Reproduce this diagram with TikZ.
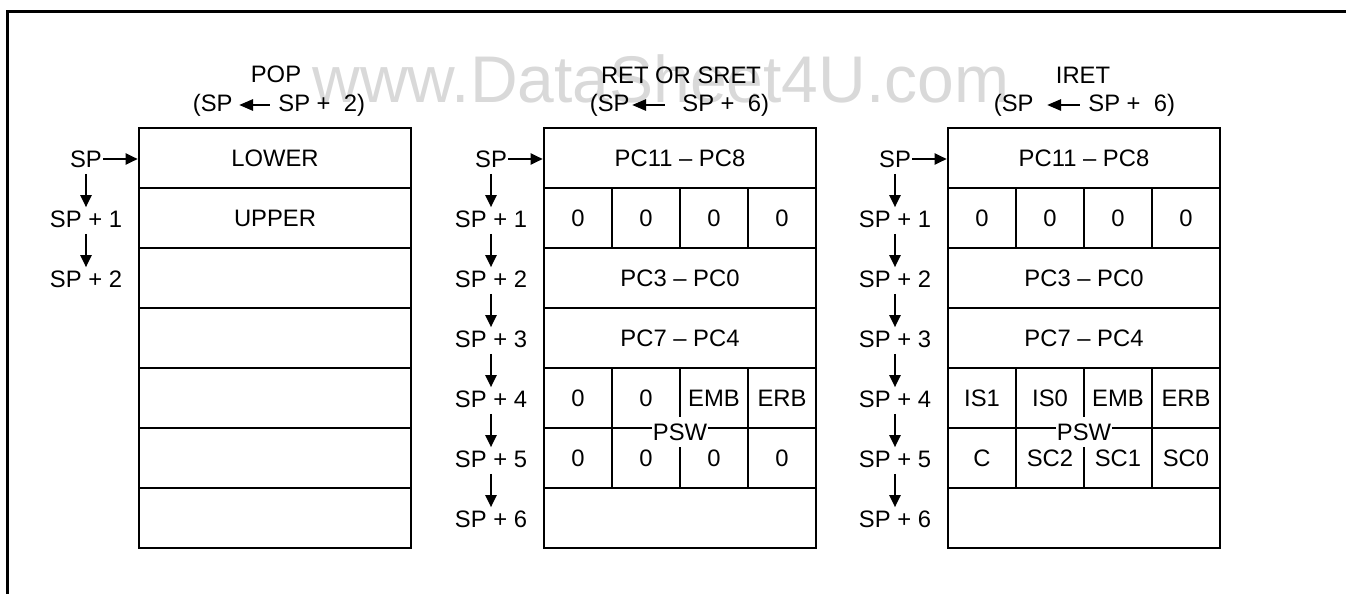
\documentclass[tikz,border=0pt]{standalone}
\usepackage{fontspec}
\setmainfont{Liberation Sans}
\usetikzlibrary{arrows.meta,positioning}

\begin{document}
\begin{tikzpicture}[
		x=0.5pt, y=-0.5pt,
		font=\fontsize{11.9}{14}\selectfont,
		every node/.style={inner sep=0pt},
		wide/.style={draw, line width=1.3pt, minimum width=136pt, minimum height=30pt},
		cell/.style={draw, line width=1.3pt, minimum width=34pt, minimum height=30pt},
		ptr/.style={-{Triangle[length=6pt,width=5.5pt]}, line width=1.1pt},
		back/.style={{Triangle[length=7pt,width=5.5pt]}-, line width=1.3pt},
		psw/.style={fill=white, inner xsep=0.6pt, inner ysep=3.5pt},
		wmark/.style={text=black!15, font=\fontsize{33}{33}\selectfont}
		]
		\useasboundingbox (0,0) rectangle (1346,594);
		\node[wmark, anchor=base west] (dsu) at (312,102) {www.DataSheet4U.com};
		\draw[line width=1.5pt] (7,594) -- (7,11) -- (1346,11);

		\node (poptitle) at (276,74) {POP};
		\node[anchor=east] (popl) at (233,105) {(SP};
		\node[anchor=west] (popr) at (278,105) {SP +\ \ 2)};
		\draw[back, shorten <=3pt, shorten >=4pt] (popl.east) -- (popr.west);
		\foreach \t [count=\k] in {LOWER,UPPER,{},{},{},{},{}}
			\node[wide] (pop\k) at (275,98+60*\k) {\t};

		\node (rettitle) at (681,75) {RET OR SRET};
		\node[anchor=east] (retl) at (630,105) {(SP};
		\node[anchor=west] (retr) at (682,105) {SP +\ \ 6)};
		\draw[back, shorten <=1pt, shorten >=8.5pt] (retl.east) -- (retr.west);
		\foreach \k/\t in {1/PC11 -- PC8,3/PC3 -- PC0,4/PC7 -- PC4,7/{}}
			\node[wide] (ret\k) at (680,98+60*\k) {\t};
		\foreach \t [count=\i] in {0,0,0,0}
			\node[cell] (ret2\i) at (510+68*\i,218) {\t};
		\foreach \t [count=\i] in {0,0,EMB,ERB}
			\node[cell] (ret5\i) at (510+68*\i,398) {\t};
		\foreach \t [count=\i] in {0,0,0,0}
			\node[cell] (ret6\i) at (510+68*\i,458) {\t};
		\node[psw] (retpsw) at (680,432) {PSW};

		\node (irettitle) at (1083,75) {IRET};
		\node[anchor=east] (iretl) at (1034,105) {(SP};
		\node[anchor=west] (iretr) at (1088,105) {SP +\ \ 6)};
		\draw[back, shorten <=6.5pt, shorten >=4pt] (iretl.east) -- (iretr.west);
		\foreach \k/\t in {1/PC11 -- PC8,3/PC3 -- PC0,4/PC7 -- PC4,7/{}}
			\node[wide] (iret\k) at (1084,98+60*\k) {\t};
		\foreach \t [count=\i] in {0,0,0,0}
			\node[cell] (iret2\i) at (914+68*\i,218) {\t};
		\foreach \t [count=\i] in {IS1,IS0,EMB,ERB}
			\node[cell] (iret5\i) at (914+68*\i,398) {\t};
		\foreach \t [count=\i] in {C,SC2,SC1,SC0}
			\node[cell] (iret6\i) at (914+68*\i,458) {\t};
		\node[psw] (iretpsw) at (1084,432) {PSW};

		\foreach \s/\x/\n in {pop/86/2,ret/491/6,iret/895/6} {
			\node (sp\s0) at (\x,159) {SP};
			\draw[ptr, shorten <=0.5pt] (sp\s0.east) -- (sp\s0.east -| \s1.west);
			\foreach \k [remember=\k as \j (initially 0)] in {1,...,\n} {
				\node (sp\s\k) at (\x,159+60*\k) {SP + \k};
				\draw[ptr, shorten <=3pt, shorten >=1.5pt] (sp\s\j.south) -- (sp\s\k.north);
			}
		}
\end{tikzpicture}
\end{document}
